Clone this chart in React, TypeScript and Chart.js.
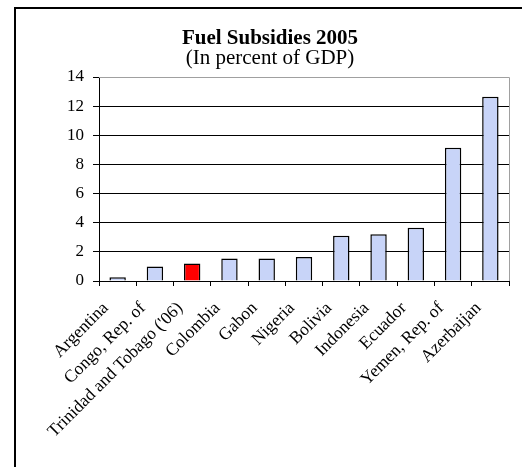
import React, { useEffect, useRef } from 'react';
import { Chart, registerables } from 'chart.js';

Chart.register(...registerables);

const categories = [
  'Argentina',
  'Congo, Rep. of',
  "Trinidad and Tobago ('06)",
  'Colombia',
  'Gabon',
  'Nigeria',
  'Bolivia',
  'Indonesia',
  'Ecuador',
  'Yemen, Rep. of',
  'Azerbaijan',
];
const subsidies = [0.25, 1.0, 1.2, 1.55, 1.55, 1.65, 3.1, 3.2, 3.65, 9.15, 12.65];
const highlighted = "Trinidad and Tobago ('06)";
const yMin = 0;
const yMax = 14;
const yStep = 2;
const titleText = 'Fuel Subsidies 2005';
const subtitleText = '(In percent of GDP)';

const FONT = "'Liberation Serif', 'Times New Roman', serif";

export default function App() {
  const ref = useRef<HTMLCanvasElement>(null);

  useEffect(() => {
    const framePlugin = {
      id: 'framePlugin',
      afterDraw(chart: any) {
        const { ctx, chartArea } = chart;
        ctx.save();
        ctx.strokeStyle = '#000';
        ctx.lineWidth = 2;
        ctx.beginPath();
        ctx.moveTo(15, 467);
        ctx.lineTo(15, 8);
        ctx.lineTo(522, 8);
        ctx.stroke();
        ctx.strokeStyle = '#a0a0a0';
        ctx.lineWidth = 1;
        ctx.beginPath();
        ctx.moveTo(chartArea.left, chartArea.top + 0.5);
        ctx.lineTo(chartArea.right + 0.5, chartArea.top + 0.5);
        ctx.lineTo(chartArea.right + 0.5, chartArea.bottom);
        ctx.stroke();
        ctx.restore();
      },
    };

    const chart = new Chart(ref.current as HTMLCanvasElement, {
      type: 'bar',
      data: {
        labels: categories,
        datasets: [
          {
            data: subsidies,
            backgroundColor: categories.map((c) => (c === highlighted ? '#ff0000' : '#c8d4f8')),
            borderColor: '#000',
            borderWidth: 1.5,
            barPercentage: 0.44,
            categoryPercentage: 1,
          },
        ],
      },
      options: {
        animation: false,
        responsive: true,
        maintainAspectRatio: false,
        layout: { padding: { left: 31, right: 13, top: 0, bottom: 0 } },
        plugins: {
          legend: { display: false },
          tooltip: { enabled: false },
          title: {
            display: true,
            text: titleText,
            color: '#000',
            font: { family: FONT, size: 21, weight: 'bold', lineHeight: 1 },
            padding: { top: 28, bottom: 0 },
          },
          subtitle: {
            display: true,
            text: subtitleText,
            color: '#000',
            font: { family: FONT, size: 21, weight: 'normal', lineHeight: 1 },
            padding: { top: -1, bottom: 8 },
          },
        },
        scales: {
          x: {
            grid: {
              offset: true,
              drawOnChartArea: false,
              drawTicks: true,
              tickLength: 5,
              tickColor: '#000',
            },
            border: { color: '#000', width: 1 },
            ticks: {
              autoSkip: false,
              maxRotation: 45,
              minRotation: 45,
              color: '#000',
              font: { family: FONT, size: 17.5 },
              padding: 12,
              labelOffset: -12,
            },
            afterFit: (s: any) => {
              s.height = 186;
            },
          },
          y: {
            min: yMin,
            max: yMax,
            ticks: {
              stepSize: yStep,
              color: '#000',
              font: { family: FONT, size: 17 },
              padding: 9,
            },
            grid: {
              color: (c: any) => (c.tick && c.tick.value === yMax ? '#a0a0a0' : '#000'),
              tickColor: '#000',
              tickLength: 6,
            },
            border: { color: '#000', width: 1 },
            afterFit: (s: any) => {
              s.width = 68;
            },
          },
        },
      },
      plugins: [framePlugin],
    });
    return () => chart.destroy();
  }, []);

  return (
    <div style={{ position: 'absolute', left: 0, top: 0, width: 522, height: 467, background: '#fff' }}>
      <canvas ref={ref} />
    </div>
  );
}
